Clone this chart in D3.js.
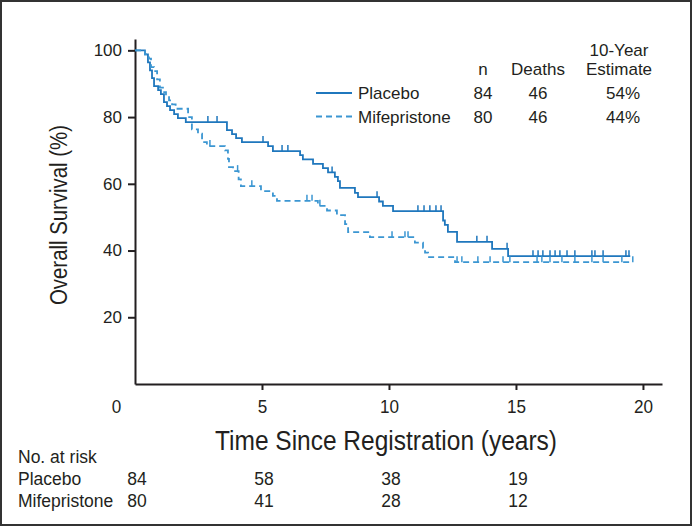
<!DOCTYPE html>
<html>
<head>
<meta charset="utf-8">
<script src="https://cdn.jsdelivr.net/npm/d3@7"></script>
<style>
  body { margin: 0; background: #fff; }
  svg { display: block; }
  text { fill: #231f20; }
  .sans { font-family: "Liberation Sans", Arial, sans-serif; }
</style>
</head>
<body>
<svg width="692" height="526"></svg>
<script>
// Kaplan-Meier steps: [years, % surviving]
var placeboSteps = [[0,100],[0.39,98.8],[0.51,96.4],[0.59,94.0],[0.67,91.7],[0.75,89.3],[0.91,88.1],[1.02,86.9],
  [1.14,84.5],[1.26,83.3],[1.38,82.1],[1.54,80.9],[1.69,79.7],[2.0,78.5],[3.62,76.1],[3.82,74.9],[3.98,73.7],
  [4.21,72.5],[5.24,71.3],[5.43,69.8],[6.5,68.6],[6.61,67.3],[7.01,66.0],[7.4,64.7],[7.6,63.4],[7.87,62.1],
  [7.99,60.8],[8.07,58.8],[8.66,57.3],[8.78,56.0],[9.61,54.7],[9.76,53.4],[10.16,51.8],[12.13,49.0],[12.2,47.7],
  [12.32,45.6],[12.68,42.6],[14.06,40.5],[14.69,38.3]];
var placeboEnd = 19.5;
var placeboCensor = [2.87,3.23,5.04,5.79,6.02,7.76,9.53,11.14,11.38,11.61,11.85,12.05,13.46,13.86,14.65,
  15.67,15.87,16.06,16.34,16.54,16.73,17.01,17.32,17.99,18.11,18.43,19.33,19.45];

var mifeSteps = [[0,100],[0.39,98.8],[0.55,97.5],[0.63,95.0],[0.75,93.8],[0.87,91.3],[0.98,88.8],[1.1,87.5],
  [1.22,86.3],[1.34,85.0],[1.46,83.8],[1.6,82.5],[2.09,80.0],[2.24,76.3],[2.48,75.0],[2.64,72.5],[2.83,71.3],
  [3.54,70.0],[3.66,67.5],[3.7,65.0],[3.86,63.8],[4.08,61.3],[4.17,59.3],[4.96,57.8],[5.43,56.4],[5.59,54.9],
  [7.2,53.4],[7.56,52.0],[7.95,50.6],[8.27,47.9],[8.39,45.5],[9.25,44.0],[11.02,42.4],[11.34,40.8],[11.42,39.4],
  [11.54,38.0],[12.6,36.5]];
var mifeEnd = 19.6;
var mifeCensor = [2.95,4.04,4.6,6.77,6.97,7.28,10.12,10.63,10.75,12.68,12.87,13.5,13.98,14.49,14.76,15.83,
  16.02,16.34,16.81,17.32,17.99,18.43,19.17,19.6];

var xTicks = [0, 5, 10, 15, 20];
var yTicks = [20, 40, 60, 80, 100];

// legend table
var legendNames = ["Placebo", "Mifepristone"];
var legendN = [84, 80];
var legendDeaths = [46, 46];
var legendEstimate = ["54%", "44%"];

// number at risk
var riskTimes = [0, 5, 10, 15];
var riskPlacebo = [84, 58, 38, 19];
var riskMife = [80, 41, 28, 12];

var solidColor = "#1f77bd";
var dashColor = "#3b96d2";

var svg = d3.select("svg");

// frame
svg.append("rect").attr("x", 1).attr("y", 1).attr("width", 690).attr("height", 524)
  .attr("fill", "none").attr("stroke", "#333").attr("stroke-width", 2);

var x = d3.scaleLinear().domain([0, 20.75]).range([135, 662]);
var y = d3.scaleLinear().domain([0, 103.4]).range([384, 39]);

// axes
var xAxisG = svg.append("g").attr("transform", "translate(0," + y(0) + ")")
  .call(d3.axisBottom(x).tickValues(xTicks).tickSize(6).tickSizeOuter(0).tickPadding(10));
xAxisG.selectAll(".tick text").attr("class", "sans").attr("font-size", 19).attr("fill", "#231f20")
  .attr("transform", "scale(0.9,1)");
xAxisG.selectAll(".tick").filter(d => d === 0).select("line").remove();
xAxisG.selectAll(".tick").filter(d => d === 0).select("text").attr("dx", -21);

var yAxisG = svg.append("g").attr("transform", "translate(" + x(0) + ",0)")
  .call(d3.axisLeft(y).tickValues(yTicks).tickSize(7).tickSizeOuter(0).tickPadding(6));
yAxisG.selectAll(".tick text").attr("class", "sans").attr("font-size", 17).attr("fill", "#231f20");

svg.selectAll(".domain, .tick line").attr("stroke", "#231f20").attr("stroke-width", 2);

// titles
svg.append("text").attr("class", "sans")
  .attr("transform", "translate(67,215) rotate(-90)")
  .attr("text-anchor", "middle").attr("font-size", 23)
  .attr("textLength", 180).attr("lengthAdjust", "spacingAndGlyphs")
  .text("Overall Survival (%)");

svg.append("text").attr("class", "sans")
  .attr("x", 386).attr("y", 450)
  .attr("text-anchor", "middle").attr("font-size", 27)
  .attr("textLength", 342).attr("lengthAdjust", "spacingAndGlyphs")
  .text("Time Since Registration (years)");

// curves
var line = d3.line().x(d => x(d[0])).y(d => y(d[1])).curve(d3.curveStepAfter);

function survAt(steps, t) {
  var s = steps[0][1];
  steps.forEach(function(d) { if (d[0] <= t) s = d[1]; });
  return s;
}

function drawCurve(steps, end, censor, color, dash) {
  var pts = steps.concat([[end, steps[steps.length - 1][1]]]);
  svg.append("path").datum(pts)
    .attr("d", line)
    .attr("fill", "none")
    .attr("stroke", color)
    .attr("stroke-width", 1.8)
    .attr("stroke-dasharray", dash);

  svg.selectAll(null).data(censor).enter()
    .append("line")
    .attr("x1", d => x(d)).attr("x2", d => x(d))
    .attr("y1", d => y(survAt(steps, d)))
    .attr("y2", d => y(survAt(steps, d)) - 6)
    .attr("stroke", color)
    .attr("stroke-width", 1.5);
}

drawCurve(placeboSteps, placeboEnd, placeboCensor, solidColor, null);
drawCurve(mifeSteps, mifeEnd, mifeCensor, dashColor, "6,4");

// legend table
var lg = svg.append("g").attr("class", "sans").attr("font-size", 17);
var colN = 483, colD = 538, colE = 619;
lg.append("text").attr("x", colE).attr("y", 56).attr("text-anchor", "middle").text("10-Year");
lg.append("text").attr("x", colN).attr("y", 75).attr("text-anchor", "middle").text("n");
lg.append("text").attr("x", colD).attr("y", 75).attr("text-anchor", "middle").text("Deaths");
lg.append("text").attr("x", colE).attr("y", 75).attr("text-anchor", "middle").text("Estimate");

legendNames.forEach(function(name, i) {
  var yy = 99 + i * 23.5;
  lg.append("line").attr("x1", 316).attr("x2", 352).attr("y1", yy - 6).attr("y2", yy - 6)
    .attr("stroke", i === 0 ? solidColor : dashColor).attr("stroke-width", 1.8)
    .attr("stroke-dasharray", i === 0 ? null : "6,4");
  lg.append("text").attr("x", 358).attr("y", yy).text(name);
  lg.append("text").attr("x", colN).attr("y", yy).attr("text-anchor", "middle").text(legendN[i]);
  lg.append("text").attr("x", colD).attr("y", yy).attr("text-anchor", "middle").text(legendDeaths[i]);
  lg.append("text").attr("x", colE + 4).attr("y", yy).attr("text-anchor", "middle").text(legendEstimate[i]);
});

// number at risk table
var rt = svg.append("g").attr("class", "sans").attr("font-size", 17.5);
rt.append("text").attr("x", 18).attr("y", 463).text("No. at risk");
rt.append("text").attr("x", 18).attr("y", 485).text("Placebo");
rt.append("text").attr("x", 18).attr("y", 507).text("Mifepristone");
rt.selectAll(null).data(riskTimes).enter().append("text")
  .attr("x", d => x(d) + 2).attr("y", 485).attr("text-anchor", "middle")
  .text((d, i) => riskPlacebo[i]);
rt.selectAll(null).data(riskTimes).enter().append("text")
  .attr("x", d => x(d) + 2).attr("y", 507).attr("text-anchor", "middle")
  .text((d, i) => riskMife[i]);
</script>
</body>
</html>
